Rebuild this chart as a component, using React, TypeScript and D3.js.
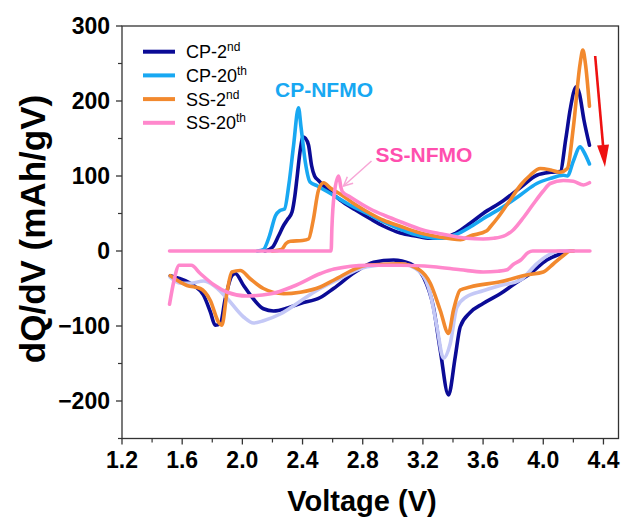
import React from 'react';
import * as d3 from 'd3';

type P = [number, number];

const xTicks = [1.2, 1.6, 2.0, 2.4, 2.8, 3.2, 3.6, 4.0, 4.4];
const xMinorTicks = [1.4, 1.8, 2.2, 2.6, 3.0, 3.4, 3.8, 4.2];
const yTicks = [-200, -100, 0, 100, 200, 300];
const yMinorTicks = [-250, -150, -50, 50, 150, 250];

const cp2Charge: P[] = [
  [2.15, 0], [2.2, 5], [2.24, 20], [2.274, 34], [2.3, 42], [2.33, 52], [2.35, 75], [2.363, 97],
  [2.385, 135], [2.403, 152], [2.42, 150], [2.44, 141], [2.46, 114], [2.48, 100], [2.506, 94],
  [2.562, 83], [2.65, 68], [2.75, 55], [2.85, 43], [2.94, 33], [3.05, 24], [3.15, 20], [3.25, 17],
  [3.35, 18], [3.42, 24], [3.514, 37], [3.6, 50], [3.734, 67], [3.85, 85], [3.957, 101],
  [4.05, 105], [4.112, 106], [4.15, 150], [4.18, 190], [4.219, 219], [4.24, 210], [4.27, 175], [4.307, 141],
];
const cp20Charge: P[] = [
  [2.1, 0], [2.14, 2], [2.18, 20], [2.22, 47], [2.25, 54], [2.28, 56], [2.31, 90], [2.34, 140],
  [2.373, 191], [2.39, 165], [2.418, 119], [2.45, 92], [2.496, 87], [2.6, 75], [2.717, 61],
  [2.83, 50], [2.936, 39], [3.05, 29], [3.15, 22], [3.3, 17], [3.42, 22], [3.514, 32], [3.6, 43],
  [3.734, 59], [3.85, 75], [3.957, 90], [4.05, 97], [4.134, 101], [4.16, 100], [4.2, 120],
  [4.245, 139], [4.27, 132], [4.307, 116],
];
const ss2Charge: P[] = [
  [2.2, 0], [2.26, 2], [2.29, 10], [2.32, 13], [2.4, 14], [2.44, 16], [2.47, 40], [2.506, 81],
  [2.54, 91], [2.584, 84], [2.65, 76], [2.75, 62], [2.85, 50], [2.938, 41], [3.05, 33], [3.15, 26],
  [3.3, 19], [3.45, 15], [3.514, 20], [3.625, 27], [3.647, 32], [3.7, 45], [3.78, 68], [3.85, 88],
  [3.913, 101], [3.98, 110], [4.05, 108], [4.11, 105], [4.16, 110], [4.2, 165], [4.245, 250],
  [4.263, 268], [4.28, 250], [4.307, 193],
];
const ss20Charge: P[] = [
  [1.516, 0], [2.59, 0], [2.595, 30], [2.61, 75], [2.64, 100], [2.655, 85], [2.665, 79],
  [2.717, 72], [2.85, 56], [2.95, 47], [3.05, 39], [3.2, 28], [3.315, 23], [3.49, 17], [3.6, 16],
  [3.67, 17], [3.75, 21], [3.8, 28], [3.87, 45], [3.935, 63], [4.0, 80], [4.046, 90], [4.134, 94],
  [4.2, 93], [4.267, 88], [4.307, 91],
];

const cp2Discharge: P[] = [
  [1.521, -33], [1.587, -37], [1.676, -46], [1.742, -59], [1.787, -81], [1.82, -99], [1.853, -97],
  [1.886, -64], [1.93, -33], [1.953, -30], [2.008, -46], [2.074, -64], [2.14, -77], [2.207, -80],
  [2.3, -76], [2.385, -70], [2.518, -62], [2.606, -50], [2.75, -28], [2.872, -15], [3.005, -12],
  [3.116, -17], [3.204, -35], [3.27, -75], [3.315, -132], [3.37, -192], [3.415, -141],
  [3.448, -101], [3.514, -82], [3.6, -70], [3.714, -57], [3.8, -45], [3.913, -30], [4.024, -12],
  [4.112, -4], [4.18, 0], [4.2, 0],
];
const cp20Discharge: P[] = [
  [1.521, -35], [1.587, -43], [1.654, -43], [1.742, -40], [1.81, -46], [1.898, -63], [2.008, -88],
  [2.074, -96], [2.14, -93], [2.252, -84], [2.385, -67], [2.5, -52], [2.606, -41], [2.828, -21],
  [3.05, -17], [3.182, -28], [3.249, -57], [3.293, -101], [3.337, -143], [3.381, -124],
  [3.426, -75], [3.49, -61], [3.6, -53], [3.714, -46], [3.846, -39], [3.957, -17], [4.046, -4],
  [4.11, 0], [4.2, 0],
];
const ss2Discharge: P[] = [
  [1.521, -33], [1.632, -46], [1.72, -50], [1.787, -66], [1.842, -95], [1.864, -99], [1.898, -55],
  [1.93, -28], [1.986, -26], [2.052, -37], [2.14, -50], [2.274, -57], [2.385, -55], [2.518, -48],
  [2.606, -39], [2.828, -19], [3.05, -17], [3.182, -26], [3.249, -43], [3.315, -79], [3.37, -110],
  [3.403, -79], [3.448, -52], [3.514, -48], [3.714, -41], [3.89, -32], [4.0, -28], [4.068, -17],
  [4.134, -6], [4.18, 0], [4.2, 0],
];
const ss20Discharge: P[] = [
  [1.516, -71], [1.545, -40], [1.58, -19], [1.66, -19], [1.72, -30], [1.81, -45], [1.9, -55],
  [2.03, -60], [2.19, -57], [2.34, -47], [2.52, -30], [2.61, -24], [2.83, -19], [3.05, -19],
  [3.27, -21], [3.45, -25], [3.6, -28], [3.7, -27], [3.76, -25], [3.8, -18], [3.85, -12],
  [3.9, -2], [3.93, 0], [4.31, 0],
];

const legendNames = [
  { base: 'CP-2', sup: 'nd', color: '#0b0b96' },
  { base: 'CP-20', sup: 'th', color: '#18a8f2' },
  { base: 'SS-2', sup: 'nd', color: '#f2892e' },
  { base: 'SS-20', sup: 'th', color: '#ff88cc' },
];

const curves = [
  { data: cp2Discharge, color: '#0b0b96' },
  { data: cp2Charge, color: '#0b0b96' },
  { data: cp20Discharge, color: '#c4c8f6' },
  { data: cp20Charge, color: '#18a8f2' },
  { data: ss2Discharge, color: '#f2892e' },
  { data: ss2Charge, color: '#f2892e' },
  { data: ss20Discharge, color: '#ff88cc' },
  { data: ss20Charge, color: '#ff88cc' },
];

const W = 642;
const H = 529;
const L = 122;
const R = 618.5;
const T = 26;
const B = 438.5;
const FONT = 'Liberation Sans, Arial, Helvetica, sans-serif';

export default function App() {
  const x = d3.scaleLinear().domain([1.2, 4.5]).range([L, R]);
  const y = d3.scaleLinear().domain([-250, 300]).range([B, T]);
  const line = d3
    .line<P>()
    .x((d) => x(d[0]))
    .y((d) => y(d[1]))
    .curve(d3.curveMonotoneX);
  const axisColor = '#333';

  // red arrow geometry
  const ax1 = x(4.345), ay1 = y(260), ax2 = x(4.41), ay2 = y(112);
  const ang = Math.atan2(ay2 - ay1, ax2 - ax1);
  const headLen = 22, headW = 6;
  const bx = ax2 - headLen * Math.cos(ang), by = ay2 - headLen * Math.sin(ang);
  const px = -Math.sin(ang) * headW, py = Math.cos(ang) * headW;

  // pink annotation arrow
  const sx1 = 371.5, sy1 = 161, sx2 = 343.5, sy2 = 186;
  const sang = Math.atan2(sy2 - sy1, sx2 - sx1);
  const ah = 10;
  const h1 = [sx2 - ah * Math.cos(sang - 0.45), sy2 - ah * Math.sin(sang - 0.45)];
  const h2 = [sx2 - ah * Math.cos(sang + 0.45), sy2 - ah * Math.sin(sang + 0.45)];

  return (
    <svg width={W} height={H} style={{ position: 'absolute', left: 0, top: 0, background: '#fff' }} fontFamily={FONT}>
      <rect x={0} y={0} width={W} height={H} fill="#fff" />
      {curves.map((c, i) => (
        <path key={i} d={line(c.data) || ''} fill="none" stroke={c.color} strokeWidth={3.6} strokeLinejoin="round" strokeLinecap="round" />
      ))}

      {/* frame */}
      <rect x={L} y={T} width={R - L} height={B - T} fill="none" stroke={axisColor} strokeWidth={1.3} />
      {xTicks.map((t) => (
        <g key={'xt' + t}>
          <line x1={x(t)} x2={x(t)} y1={B} y2={B + 6} stroke={axisColor} strokeWidth={1.3} />
          <text x={x(t)} y={468} textAnchor="middle" fontSize={23} fontWeight="bold" fill="#000">
            {t.toFixed(1)}
          </text>
        </g>
      ))}
      {xMinorTicks.map((t) => (
        <line key={'xm' + t} x1={x(t)} x2={x(t)} y1={B} y2={B + 4} stroke={axisColor} strokeWidth={1.2} />
      ))}
      {yTicks.map((t) => (
        <g key={'yt' + t}>
          <line x1={L - 6} x2={L} y1={y(t)} y2={y(t)} stroke={axisColor} strokeWidth={1.3} />
          <text x={110} y={y(t) + 8} textAnchor="end" fontSize={23} fontWeight="bold" fill="#000">
            {t < 0 ? '\u2212' + Math.abs(t) : String(t)}
          </text>
        </g>
      ))}
      {yMinorTicks.map((t) => (
        <line key={'ym' + t} x1={L - 4} x2={L} y1={y(t)} y2={y(t)} stroke={axisColor} strokeWidth={1.2} />
      ))}

      <text x={362} y={511} textAnchor="middle" fontSize={29} fontWeight="bold" fill="#000">
        Voltage (V)
      </text>
      <text transform="translate(45,229) rotate(-90)" textAnchor="middle" fontSize={35} fontWeight="bold" fill="#000">
        dQ/dV (mAh/gV)
      </text>

      {/* legend */}
      {legendNames.map((s, i) => {
        const ly = 51.7 + i * 23.7;
        return (
          <g key={s.base + s.sup}>
            <line x1={143} x2={175} y1={ly} y2={ly} stroke={s.color} strokeWidth={4} />
            <text x={186} y={ly + 6.5} fontSize={18} fill="#000">
              {s.base}
              <tspan dy={-7} fontSize={12}>{s.sup}</tspan>
            </text>
          </g>
        );
      })}

      <text x={324} y={97} textAnchor="middle" fontSize={21} fontWeight="bold" fill="#18a8f2">
        CP-NFMO
      </text>
      <text x={424} y={161.5} textAnchor="middle" fontSize={21} fontWeight="bold" fill="#ff4fae">
        SS-NFMO
      </text>
      <line x1={sx1} y1={sy1} x2={sx2} y2={sy2} stroke="#f7a6d6" strokeWidth={1.5} />
      <polyline points={`${h1[0]},${h1[1]} ${sx2},${sy2} ${h2[0]},${h2[1]}`} fill="none" stroke="#f7a6d6" strokeWidth={1.5} />

      <line x1={ax1} y1={ay1} x2={bx} y2={by} stroke="#ee1111" strokeWidth={2.6} />
      <polygon points={`${ax2},${ay2} ${bx + px},${by + py} ${bx - px},${by - py}`} fill="#ee1111" />
    </svg>
  );
}
